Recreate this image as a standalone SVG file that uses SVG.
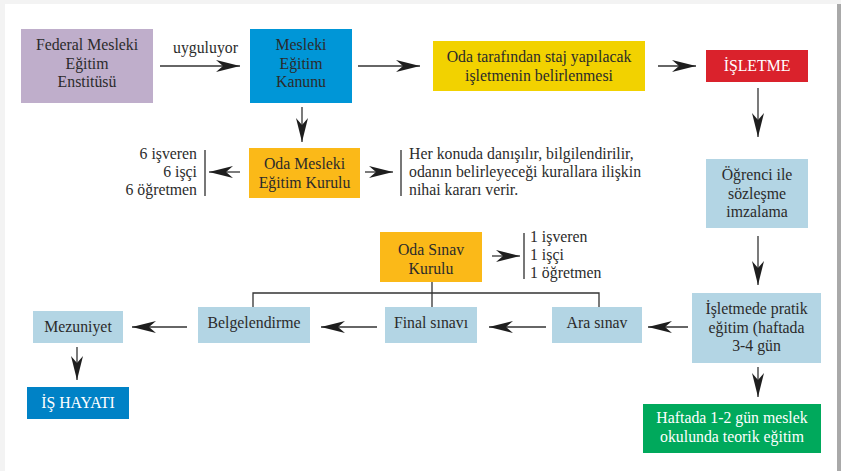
<svg xmlns="http://www.w3.org/2000/svg" width="841" height="471" viewBox="0 0 841 471">
<style>
text{font-family:"Liberation Serif","DejaVu Serif",serif;font-size:15.8px;fill:#2b2b2b}
.c{text-anchor:middle}
.r{text-anchor:end}
.w{fill:#ffffff}
.ln{stroke:#333;stroke-width:1.3;fill:none}
.ar{stroke:#333;stroke-width:1.3;fill:none;marker-end:url(#ah)}
.bar{stroke:#555;stroke-width:1.6}
</style>
<defs>
<marker id="ah" viewBox="0 0 24 12" refX="24" refY="6" markerWidth="24" markerHeight="12" markerUnits="userSpaceOnUse" orient="auto">
<path d="M0,0 L24,6 L0,12 L7,6 Z" fill="#1e1e1e"/>
</marker>
</defs>
<rect x="0" y="0" width="841" height="471" fill="#f3f3f3"/>
<rect x="5" y="4" width="832" height="467" fill="#ffffff"/>
<rect x="837" y="4" width="4" height="467" fill="#a9a9a9"/>

<g id="connectors">
<line class="ar" x1="160" y1="66" x2="240" y2="66"/>
<line class="ar" x1="358" y1="66" x2="420" y2="66"/>
<line class="ar" x1="658" y1="66" x2="696" y2="66"/>
<line class="ar" x1="758" y1="88" x2="758" y2="137"/>
<line class="ar" x1="302" y1="107" x2="302" y2="142"/>
<line class="ar" x1="240" y1="172" x2="209" y2="172"/>
<line class="ar" x1="365" y1="172" x2="393" y2="172"/>
<line class="ar" x1="758" y1="236" x2="758" y2="285"/>
<line class="ar" x1="688" y1="327" x2="648" y2="327"/>
<line class="ar" x1="546" y1="327" x2="489" y2="327"/>
<line class="ar" x1="377" y1="327" x2="321" y2="327"/>
<line class="ar" x1="187" y1="327" x2="132" y2="327"/>
<line class="ar" x1="77" y1="347" x2="77" y2="380"/>
<line class="ar" x1="758" y1="367" x2="758" y2="397"/>
<line class="ar" x1="492" y1="256" x2="520" y2="256"/>
<polyline class="ln" points="253,307 253,293 599,293 599,307"/>
<line class="ln" x1="432" y1="282" x2="432" y2="307"/>
<line class="bar" x1="205" y1="150" x2="205" y2="196"/>
<line class="bar" x1="401" y1="150" x2="401" y2="196"/>
<line class="bar" x1="524" y1="233" x2="524" y2="279"/>
<text x="173" y="53">uyguluyor</text>
</g>

<g id="federal">
<rect x="21" y="29" width="132" height="74" fill="#bfaecb"/>
<text class="c" x="87" y="50">Federal Mesleki</text>
<text class="c" x="87" y="69">Eğitim</text>
<text class="c" x="87" y="87">Enstitüsü</text>
</g>
<g id="kanun">
<rect x="250" y="29" width="102" height="74" fill="#0096d7"/>
<text class="c" x="301" y="50">Mesleki</text>
<text class="c" x="301" y="69">Eğitim</text>
<text class="c" x="301" y="87">Kanunu</text>
</g>
<g id="oda-staj">
<rect x="433" y="41" width="212" height="50" fill="#f2d200"/>
<text class="c" x="539" y="62">Oda tarafından staj yapılacak</text>
<text class="c" x="539" y="81">işletmenin belirlenmesi</text>
</g>
<g id="isletme">
<rect x="706" y="50" width="102" height="32" fill="#da222c"/>
<text class="c w" x="757" y="71">İŞLETME</text>
</g>
<g id="oda-mesleki">
<rect x="249" y="148" width="111" height="50" fill="#fbb918"/>
<text class="c" x="304.5" y="169">Oda Mesleki</text>
<text class="c" x="304.5" y="188">Eğitim Kurulu</text>
</g>
<g id="kurul-uyeleri">
<text class="r" x="197" y="159">6 işveren</text>
<text class="r" x="197" y="177">6 işçi</text>
<text class="r" x="197" y="195">6 öğretmen</text>
</g>
<g id="kurul-gorev">
<text x="409" y="159">Her konuda danışılır, bilgilendirilir,</text>
<text x="409" y="177">odanın belirleyeceği kurallara ilişkin</text>
<text x="409" y="195">nihai kararı verir.</text>
</g>
<g id="ogrenci">
<rect x="706" y="159" width="102" height="69" fill="#b3d5e4"/>
<text class="c" x="757" y="180">Öğrenci ile</text>
<text class="c" x="757" y="199">sözleşme</text>
<text class="c" x="757" y="217">imzalama</text>
</g>
<g id="oda-sinav">
<rect x="380" y="232" width="102" height="50" fill="#fbb918"/>
<text class="c" x="431" y="255">Oda Sınav</text>
<text class="c" x="431" y="274">Kurulu</text>
</g>
<g id="sinav-uyeleri">
<text x="530" y="242">1 işveren</text>
<text x="530" y="260">1 işçi</text>
<text x="530" y="278">1 öğretmen</text>
</g>
<g id="pratik">
<rect x="692" y="293" width="129" height="70" fill="#b3d5e4"/>
<text class="c" x="756.5" y="314">İşletmede pratik</text>
<text class="c" x="756.5" y="333">eğitim (haftada</text>
<text class="c" x="756.5" y="351">3-4 gün</text>
</g>
<g id="ara-sinav">
<rect x="552" y="307" width="90" height="36" fill="#b3d5e4"/>
<text class="c" x="597" y="328">Ara sınav</text>
</g>
<g id="final-sinav">
<rect x="385" y="307" width="92" height="36" fill="#b3d5e4"/>
<text class="c" x="431" y="328">Final sınavı</text>
</g>
<g id="belgelendirme">
<rect x="198" y="307" width="112" height="36" fill="#b3d5e4"/>
<text class="c" x="254" y="328">Belgelendirme</text>
</g>
<g id="mezuniyet">
<rect x="33" y="311" width="90" height="32" fill="#b3d5e4"/>
<text class="c" x="78" y="332">Mezuniyet</text>
</g>
<g id="is-hayati">
<rect x="27" y="387" width="102" height="32" fill="#0082c6"/>
<text class="c w" x="78" y="408">İŞ HAYATI</text>
</g>
<g id="okul">
<rect x="643" y="404" width="178" height="49" fill="#00a95c"/>
<text class="c w" x="732" y="423">Haftada 1-2 gün meslek</text>
<text class="c w" x="732" y="442">okulunda teorik eğitim</text>
</g>
</svg>
